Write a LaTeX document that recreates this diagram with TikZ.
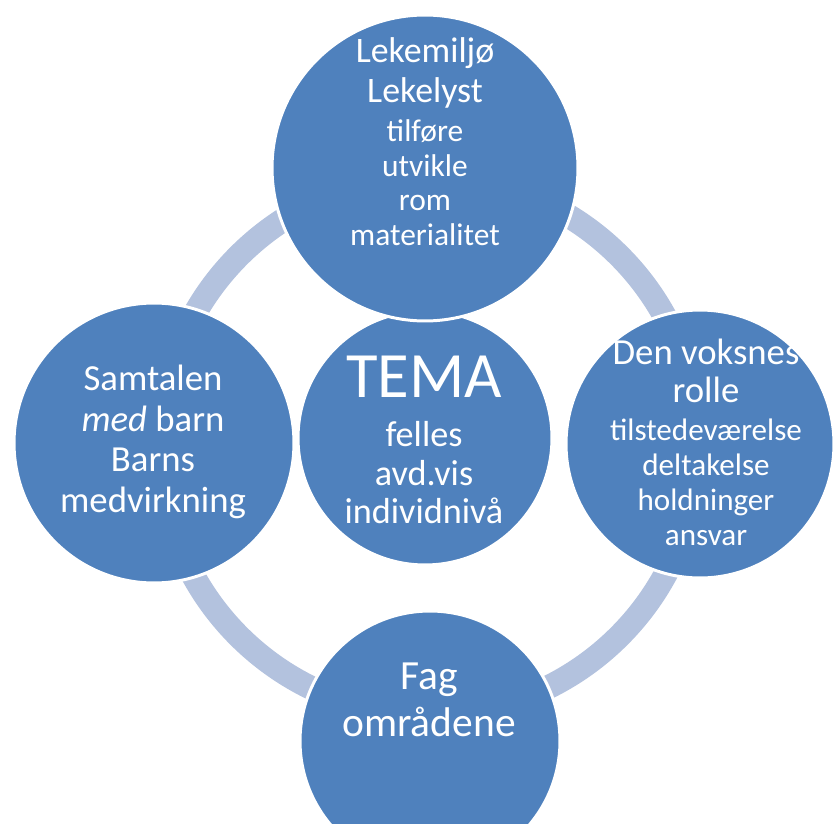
\documentclass[tikz,border=0pt]{standalone}
\usepackage{fontspec}
\setmainfont{Carlito}
\usetikzlibrary{positioning}
\definecolor{smartblue}{RGB}{79,129,189}
\definecolor{ringblue}{RGB}{179,194,222}

\begin{document}
\begin{tikzpicture}[x=0.02cm,y=-0.02cm,
	bubble/.style={circle,fill=smartblue,draw=white,line width=1.7pt,inner sep=0pt},
	txt/.style={text=white,align=center,inner sep=0pt}]
	\useasboundingbox (0,0) rectangle (838,824);
	% ring behind everything
	\coordinate (hub) at (429,446);
	\draw[ringblue,line width=13.6pt] (hub) circle (269);
	% middle first, the others lie on top of it
	\node[bubble,minimum size=5.08cm] (tema) at (425,438) {};
	\node[bubble,minimum size=6.12cm] (lek) at (425,168) {};
	\node[bubble,minimum size=5.6cm] (samtale) at (154,443) {};
	\node[bubble,minimum size=5.36cm] (rolle) at (700,444) {};
	\node[bubble,minimum size=5.2cm] (fag) at (430,741) {};
	% texts
	\node[txt,font=\fontsize{17.9}{19.8}\selectfont] (lektxt) at (425,142)
		{{\fontsize{20.4}{19.8}\selectfont Lekemiljø}\\[2.8pt]
		 {\fontsize{20.4}{19.8}\selectfont Lekelyst}\\[2.3pt]
		 tilføre\\ utvikle\\ rom\\ materialitet};
	\node[txt,font=\fontsize{20.9}{23}\selectfont] (samtaletxt) at (153,442)
		{Samtalen\\ \textit{med} barn\\ Barns\\ medvirkning};
	\node[txt,font=\fontsize{17.7}{19.8}\selectfont] (rolletxt) at (706,442)
		{{\fontsize{20.9}{19.8}\selectfont Den voksnes}\\[2.3pt]
		 {\fontsize{20.9}{19.8}\selectfont rolle}\\[1.7pt]
		 tilstedeværelse\\ deltakelse\\ holdninger\\ ansvar};
	\node[txt,font=\fontsize{20.6}{22.1}\selectfont] (tematxt) at (424,440)
		{{\fontsize{36.8}{22.1}\selectfont TEMA}\\[5.7pt]
		 felles\\ avd.vis\\ individnivå};
	\node[txt,font=\fontsize{23.6}{26.6}\selectfont] (fagtxt) at (429,700)
		{Fag\\ områdene};
\end{tikzpicture}
\end{document}
